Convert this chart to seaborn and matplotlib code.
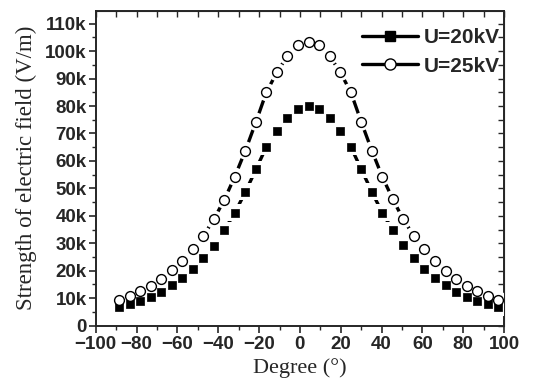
import pandas as pd
import matplotlib
matplotlib.use('Agg')
import matplotlib.pyplot as plt
import seaborn as sns
from matplotlib.lines import Line2D
from matplotlib.ticker import MultipleLocator, FuncFormatter

# Data (degree, field strength in V/m)
degree = [-88.6, -83.4, -78.3, -73.1, -68.0, -62.8, -57.6, -52.5, -47.3, -42.2,
          -37.0, -31.9, -26.7, -21.5, -16.4, -11.2, -6.1, -0.9, 4.2, 9.4,
          14.5, 19.7, 24.9, 30.0, 35.2, 40.3, 45.5, 50.6, 55.8, 61.0,
          66.1, 71.3, 76.4, 81.6, 86.7, 91.9, 97.0]
e_20kv = [6800, 7700, 8900, 10500, 12200, 14600, 17500, 20700, 24500, 29100,
          34800, 41100, 48700, 57000, 65200, 70900, 75800, 78900, 80100, 78900,
          75600, 70900, 65200, 57000, 48800, 41100, 34800, 29200, 24600, 20700,
          17500, 14600, 12200, 10500, 9000, 7700, 6600]
e_25kv = [9300, 10700, 12600, 14500, 17000, 20100, 23600, 27800, 32700, 38700,
          45900, 54300, 63800, 74300, 85100, 92400, 98300, 102200, 103300, 102200,
          98300, 92400, 85100, 74300, 63800, 54300, 46000, 38700, 32700, 27800,
          23400, 20000, 17000, 14500, 12600, 10700, 9300]
labels = ['U=20kV', 'U=25kV']

df = pd.DataFrame(dict(degree=degree, e20=e_20kv, e25=e_25kv))

sns.set_style('ticks')
plt.rcParams['font.family'] = ['Liberation Sans', 'DejaVu Sans']

fig = plt.figure(figsize=(5.38, 3.88), dpi=100)
ax = fig.add_axes([0.178, 0.161, 0.759, 0.811])

lw = 2.4
# connecting lines
sns.lineplot(data=df, x='degree', y='e20', color='black', lw=lw, ax=ax, zorder=2)
sns.lineplot(data=df, x='degree', y='e25', color='black', lw=lw, ax=ax, zorder=2)

# white halo around symbols (gap between line and symbol)
sns.scatterplot(data=df, x='degree', y='e20', marker='s', s=150, color='white',
                edgecolor='none', ax=ax, zorder=3)
sns.scatterplot(data=df, x='degree', y='e25', marker='o', s=170, color='white',
                edgecolor='none', ax=ax, zorder=3)

# symbols
sns.scatterplot(data=df, x='degree', y='e20', marker='s', s=40, color='black',
                edgecolor='black', linewidth=0.5, ax=ax, zorder=4)
sns.scatterplot(data=df, x='degree', y='e25', marker='o', s=50, color='white',
                edgecolor='black', linewidth=1.0, ax=ax, zorder=4)

ax.set_xlim(-100, 100)
ax.set_ylim(0, 114700)

ax.xaxis.set_major_locator(MultipleLocator(20))
ax.xaxis.set_minor_locator(MultipleLocator(10))
ax.yaxis.set_major_locator(MultipleLocator(10000))
ax.yaxis.set_minor_locator(MultipleLocator(5000))
ax.yaxis.set_major_formatter(FuncFormatter(lambda v, p: '0' if v == 0 else f'{int(round(v / 1000))}k'))

for s in ax.spines.values():
    s.set_linewidth(1.4)
    s.set_visible(True)

ax.tick_params(which='major', direction='out', length=5, width=1.2, labelsize=13.5, pad=1.5)
ax.tick_params(which='minor', direction='out', length=3, width=1.0)
ax.tick_params(axis='x', which='major', pad=2.5)
for t in ax.get_xticklabels() + ax.get_yticklabels():
    t.set_fontweight('bold')

# inward ticks on top and right
top = ax.secondary_xaxis('top')
top.xaxis.set_major_locator(MultipleLocator(20))
top.xaxis.set_minor_locator(MultipleLocator(10))
top.tick_params(which='both', direction='in', length=4, width=1.0, labeltop=False)
right = ax.secondary_yaxis('right')
right.yaxis.set_major_locator(MultipleLocator(10000))
right.yaxis.set_minor_locator(MultipleLocator(5000))
right.tick_params(which='both', direction='in', length=4, width=1.0, labelright=False)

ax.set_xlabel('Degree (°)', fontsize=16, family='Liberation Serif', labelpad=4)
ax.set_ylabel('Strength of electric field (V/m)', fontsize=16.5, family='Liberation Serif', labelpad=6)

handles = [
    Line2D([], [], color='black', lw=lw, marker='s', markersize=7,
           markerfacecolor='black', markeredgecolor='black'),
    Line2D([], [], color='black', lw=lw, marker='o', markersize=8,
           markerfacecolor='white', markeredgecolor='black', markeredgewidth=1.0),
]
ax.legend(handles, labels, loc='upper right', bbox_to_anchor=(0.99, 0.945),
          frameon=False, handlelength=2.7, handletextpad=0.3, labelspacing=0.45,
          borderpad=0.0, borderaxespad=0.0,
          prop=dict(family='Liberation Sans', weight='bold', size=15))

fig.savefig('out.png', dpi=100)
